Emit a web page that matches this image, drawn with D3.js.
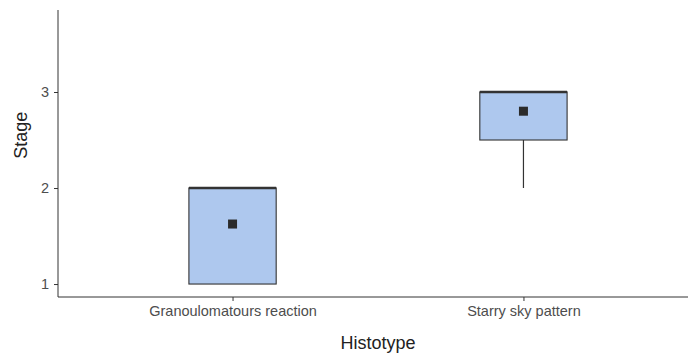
<!DOCTYPE html>
<html>
<head>
<meta charset="utf-8">
<script src="https://cdn.jsdelivr.net/npm/d3@7"></script>
<style>
  body { margin: 0; background: #fff; }
  svg { font-family: "Liberation Sans", Arial, sans-serif; }
</style>
</head>
<body>
<div id="chart"></div>
<script>
// data
let categories = ["Granoulomatours reaction", "Starry sky pattern"];
let lowerWhisker = [1, 2];
let q1 = [1, 2.5];
let median = [2, 3];
let q3 = [2, 3];
let upperWhisker = [2, 3];
let means = [1.625, 2.8];
let yTicks = [1, 2, 3];

const width = 688;
const height = 353;
const margin = { left: 58, right: 0, top: 10, bottom: 56 };
const plotH = height - margin.top - margin.bottom;
const font = '"Liberation Sans", Arial, sans-serif';

let svg = d3
  .select("#chart")
  .append("svg")
  .attr("width", width)
  .attr("height", height);

let x = d3
  .scalePoint()
  .domain(categories)
  .range([margin.left, 698])
  .padding(0.6);

let y = d3
  .scaleLinear()
  .domain([0.865, 3.854])
  .range([margin.top + plotH, margin.top]);

const boxW = x.step() * 0.3;

// axes
const yAxis = svg
  .append("g")
  .attr("transform", `translate(${margin.left},0)`)
  .call(d3.axisLeft(y).tickValues(yTicks).tickSize(4).tickPadding(5).tickFormat(d3.format("d")))
  .attr("font-family", font);
yAxis.select(".domain").attr("d", `M0,${margin.top}V${margin.top + plotH}`).attr("stroke", "#333").attr("stroke-width", 1);
yAxis.selectAll(".tick line").attr("stroke", "#333");
yAxis.selectAll("text").style("fill", "#4d4d4d").style("font-size", "14.5px");

const xAxis = svg
  .append("g")
  .attr("transform", `translate(0,${margin.top + plotH})`)
  .call(d3.axisBottom(x).tickSize(4).tickPadding(5))
  .attr("font-family", font);
xAxis.select(".domain").attr("d", `M${margin.left},0H${width}`).attr("stroke", "#333").attr("stroke-width", 1);
xAxis.selectAll(".tick line").attr("stroke", "#333");
xAxis.selectAll("text").style("fill", "#4d4d4d").style("font-size", "14.5px");

// axis titles
svg
  .append("text")
  .attr("x", 378)
  .attr("y", 349)
  .attr("text-anchor", "middle")
  .style("font-size", "18px")
  .style("fill", "#222")
  .text("Histotype");

svg
  .append("text")
  .attr("transform", `translate(27,${y(2.55)}) rotate(-90)`)
  .attr("text-anchor", "middle")
  .style("font-size", "18px")
  .style("fill", "#222")
  .text("Stage");

// boxes
let boxes = svg
  .selectAll("g.box")
  .data(categories)
  .enter()
  .append("g")
  .attr("class", "box");

boxes
  .append("line")
  .attr("x1", (d) => x(d))
  .attr("x2", (d) => x(d))
  .attr("y1", (d, i) => y(lowerWhisker[i]))
  .attr("y2", (d, i) => y(q1[i]))
  .attr("stroke", "#333")
  .attr("stroke-width", 1.2);

boxes
  .append("line")
  .attr("x1", (d) => x(d))
  .attr("x2", (d) => x(d))
  .attr("y1", (d, i) => y(upperWhisker[i]))
  .attr("y2", (d, i) => y(q3[i]))
  .attr("stroke", "#333")
  .attr("stroke-width", 1.2);

boxes
  .append("rect")
  .attr("x", (d) => x(d) - boxW / 2)
  .attr("y", (d, i) => y(q3[i]))
  .attr("width", boxW)
  .attr("height", (d, i) => y(q1[i]) - y(q3[i]))
  .attr("fill", "#aec8ee")
  .attr("stroke", "#333")
  .attr("stroke-width", 1.1);

boxes
  .append("line")
  .attr("x1", (d) => x(d) - boxW / 2)
  .attr("x2", (d) => x(d) + boxW / 2)
  .attr("y1", (d, i) => y(median[i]))
  .attr("y2", (d, i) => y(median[i]))
  .attr("stroke", "#333")
  .attr("stroke-width", 2.4);

boxes
  .append("rect")
  .attr("x", (d) => x(d) - 4.5)
  .attr("y", (d, i) => y(means[i]) - 4.5)
  .attr("width", 9)
  .attr("height", 9)
  .attr("fill", "#2b2b2b");
</script>
</body>
</html>
